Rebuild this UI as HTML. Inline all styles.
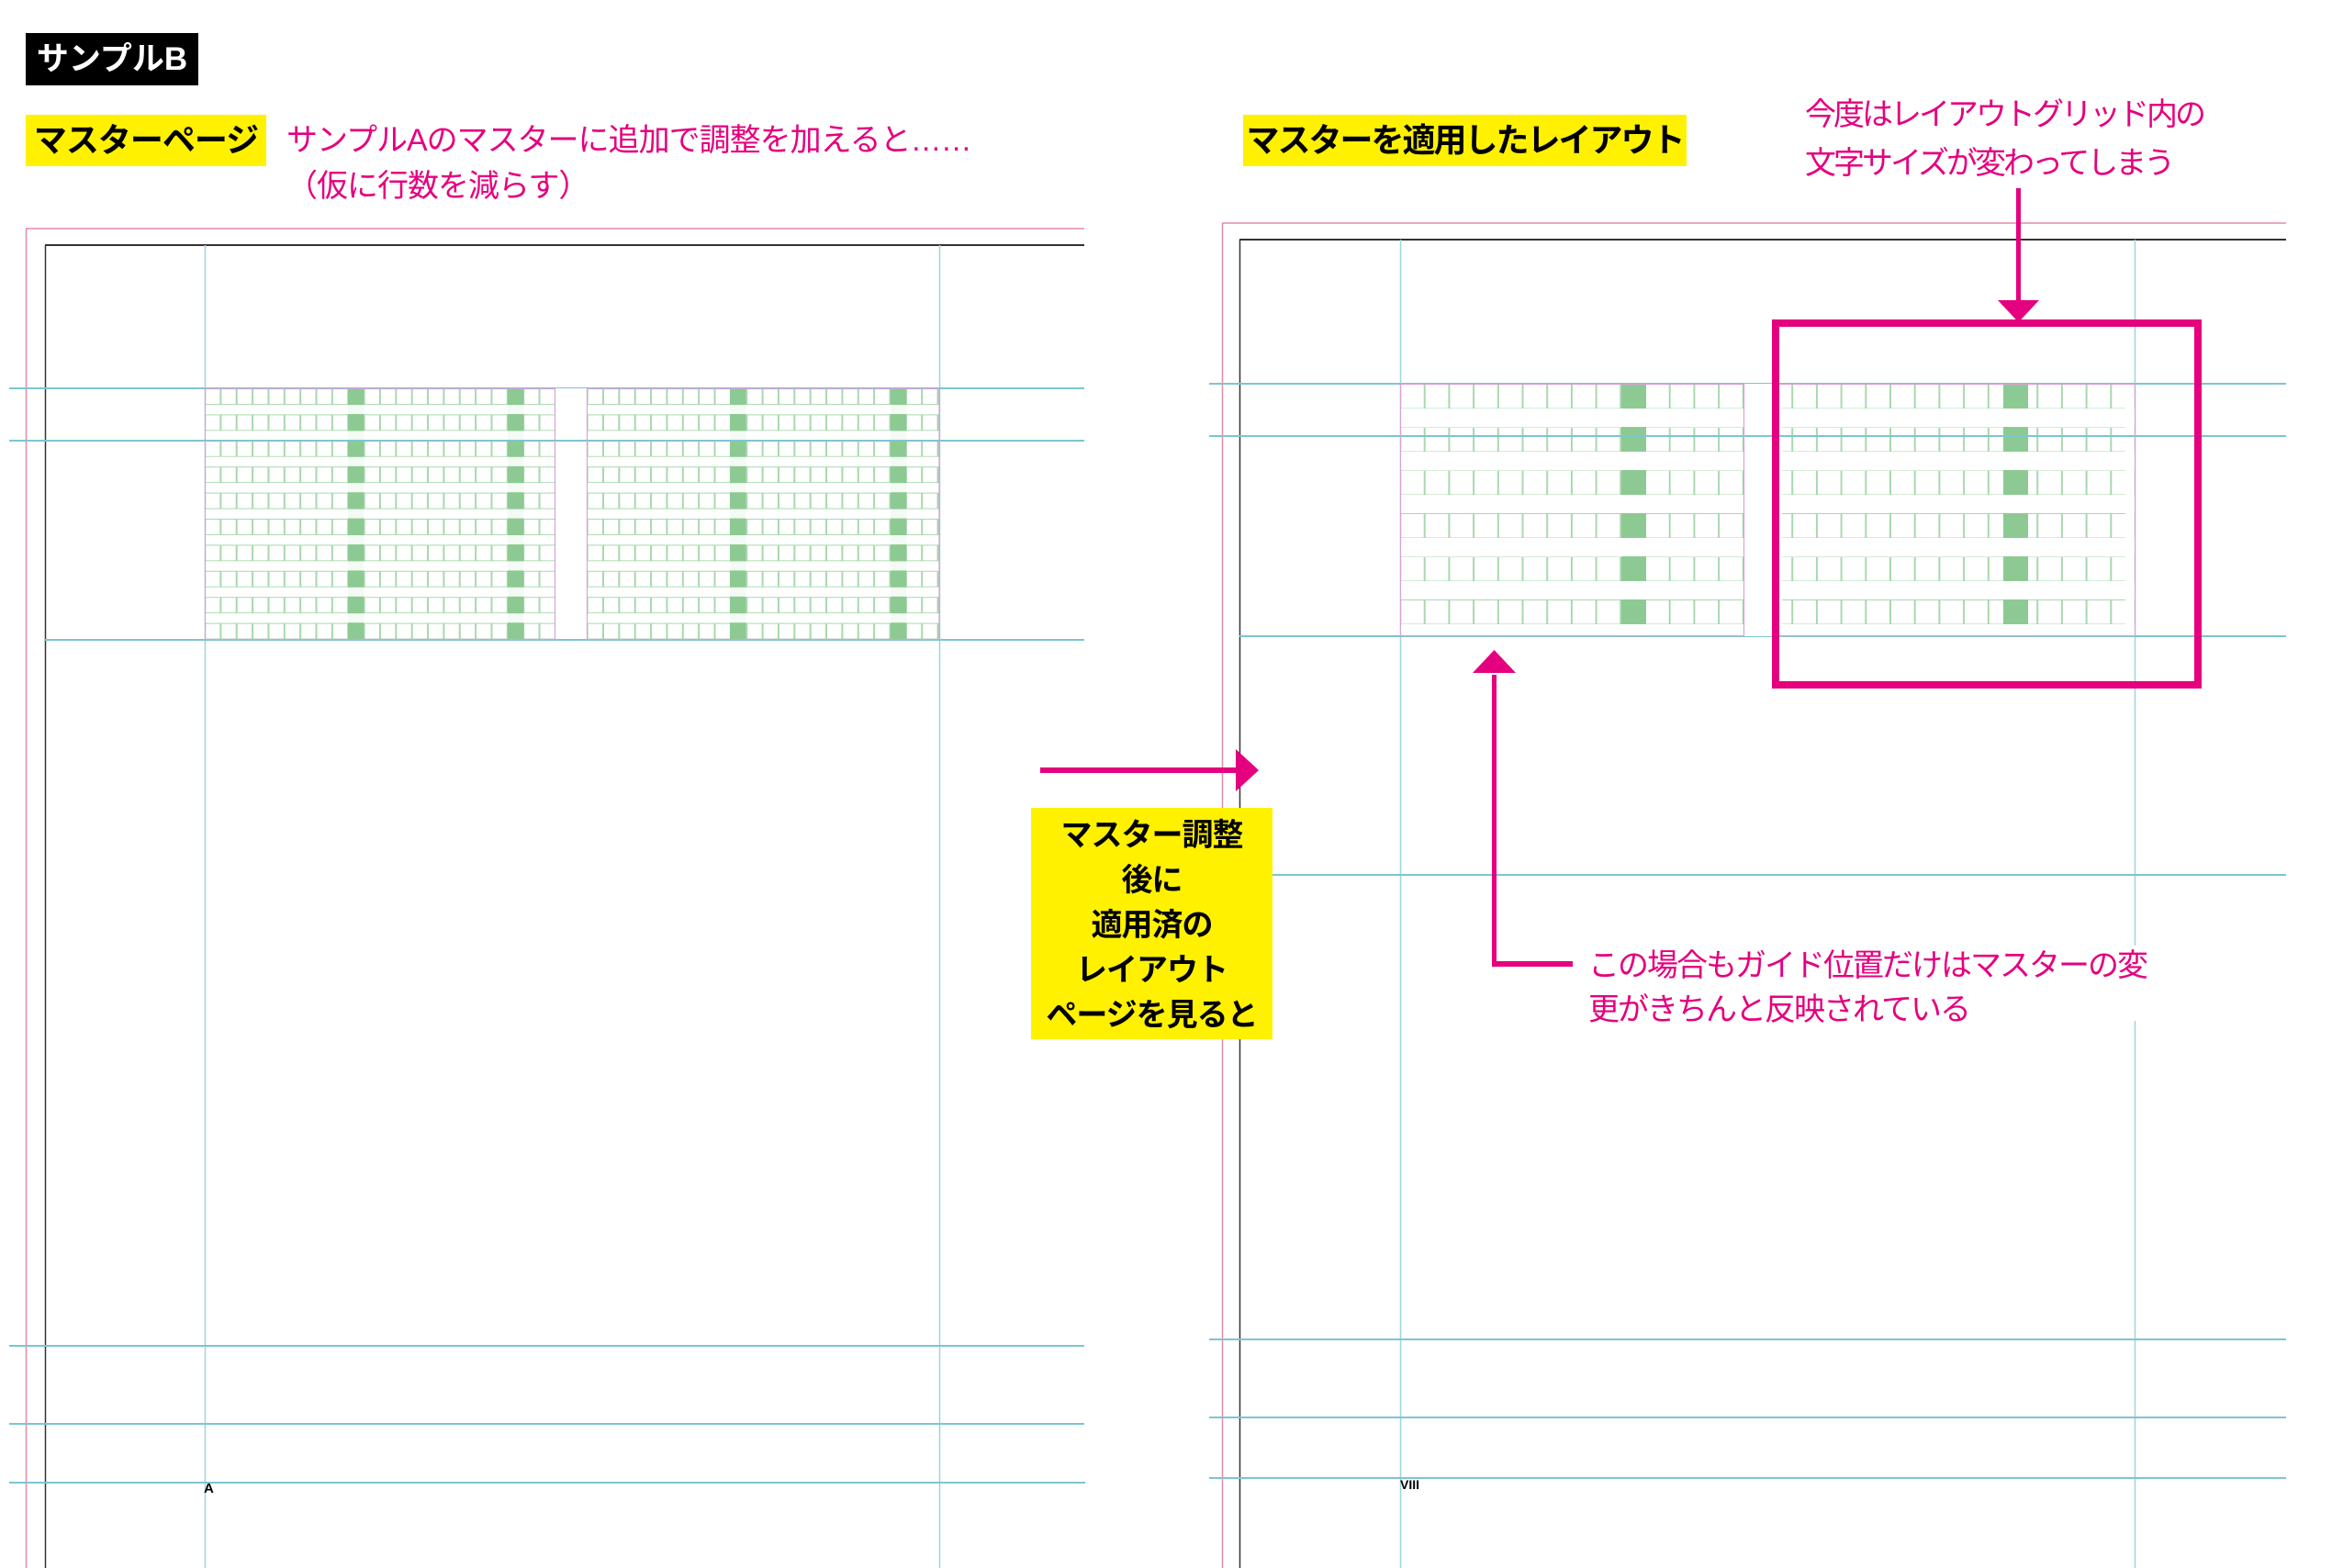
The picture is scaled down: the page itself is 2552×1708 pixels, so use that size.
<!DOCTYPE html>
<html><head><meta charset="utf-8">
<style>
html,body{margin:0;padding:0;background:#fff;}
body{width:2552px;height:1708px;position:relative;overflow:hidden;font-family:"Liberation Sans","Noto Sans CJK JP",sans-serif;}
.t{position:absolute;white-space:nowrap;}
.pk{color:#e4007f;font-size:34px;line-height:50px;}
.yl{position:absolute;background:#fff100;color:#000;font-weight:bold;font-size:36px;white-space:nowrap;}
</style></head><body>
<svg width="2552" height="1708" style="position:absolute;left:0;top:0">
<defs>
<pattern id="pL" x="223" y="423" width="17.36" height="28.4" patternUnits="userSpaceOnUse">
<rect x="0.5" y="0.5" width="16.36" height="17" fill="none" stroke="#a8d8ad" stroke-width="1"/>
</pattern>
<pattern id="pR" x="1525" y="418" width="26.7" height="47" patternUnits="userSpaceOnUse">
<rect x="0.5" y="0.5" width="25.7" height="26.5" fill="none" stroke="#a8d8ad" stroke-width="1"/>
</pattern>
</defs>
<line x1="28" y1="249" x2="1181" y2="249" stroke="#e58aa8" stroke-width="1.5"/>
<line x1="28.5" y1="249" x2="28.5" y2="1708" stroke="#e58aa8" stroke-width="1.5"/>
<line x1="49" y1="267" x2="1181" y2="267" stroke="#333" stroke-width="2"/>
<line x1="49.5" y1="267" x2="49.5" y2="1708" stroke="#333" stroke-width="1.5"/>
<line x1="223.5" y1="267" x2="223.5" y2="1708" stroke="#9dd6dc" stroke-width="1.5"/>
<line x1="1023.5" y1="267" x2="1023.5" y2="1708" stroke="#9dd6dc" stroke-width="1.5"/>
<g stroke="#7cc6cf" stroke-width="2">
<line x1="10" y1="423" x2="1181" y2="423"/>
<line x1="10" y1="480" x2="1181" y2="480"/>
<line x1="49" y1="697" x2="1181" y2="697"/>
<line x1="10" y1="1466" x2="1181" y2="1466"/>
<line x1="10" y1="1551" x2="1181" y2="1551"/>
<line x1="10" y1="1615" x2="1182" y2="1615"/>
</g>
<rect x="223" y="423" width="382" height="273" fill="url(#pL)"/>
<rect x="639" y="423" width="384" height="273" fill="url(#pL)"/>
<g fill="#8dca93">
<rect x="379" y="423" width="17.4" height="273"/>
<rect x="553" y="423" width="17.4" height="273"/>
<rect x="795" y="423" width="17.4" height="273"/>
<rect x="970" y="423" width="17.4" height="273"/>
</g>
<g fill="#fff">
<rect x="223" y="441" width="800" height="10" opacity="0.9"/>
<rect x="223" y="469.4" width="800" height="10" opacity="0.9"/>
<rect x="223" y="497.8" width="800" height="10" opacity="0.9"/>
<rect x="223" y="526.2" width="800" height="10" opacity="0.9"/>
<rect x="223" y="554.6" width="800" height="10" opacity="0.9"/>
<rect x="223" y="583" width="800" height="10" opacity="0.9"/>
<rect x="223" y="611.4" width="800" height="10" opacity="0.9"/>
<rect x="223" y="639.8" width="800" height="10" opacity="0.9"/>
<rect x="223" y="668.2" width="800" height="10" opacity="0.9"/>
<rect x="605" y="423" width="34" height="273"/>
</g>
<g stroke="#7cc6cf" stroke-width="2"><line x1="223" y1="480" x2="1023" y2="480"/></g>
<g fill="none" stroke="#d6a2d6" stroke-width="1.2">
<rect x="223.5" y="423.5" width="381" height="273"/>
<rect x="639.5" y="423.5" width="383.5" height="273"/>
</g>
<line x1="1331" y1="243" x2="2490" y2="243" stroke="#e58aa8" stroke-width="1.5"/>
<line x1="1331.5" y1="243" x2="1331.5" y2="1708" stroke="#e58aa8" stroke-width="1.5"/>
<line x1="1350" y1="261" x2="2490" y2="261" stroke="#333" stroke-width="2"/>
<line x1="1350.5" y1="261" x2="1350.5" y2="1708" stroke="#333" stroke-width="1.5"/>
<line x1="1525.5" y1="261" x2="1525.5" y2="1708" stroke="#9dd6dc" stroke-width="1.5"/>
<line x1="2325.5" y1="261" x2="2325.5" y2="1708" stroke="#9dd6dc" stroke-width="1.5"/>
<g stroke="#7cc6cf" stroke-width="2">
<line x1="1317" y1="418" x2="2490" y2="418"/>
<line x1="1317" y1="475" x2="2490" y2="475"/>
<line x1="1350" y1="693" x2="2490" y2="693"/>
<line x1="1386" y1="953" x2="2490" y2="953"/>
<line x1="1317" y1="1459" x2="2490" y2="1459"/>
<line x1="1317" y1="1544" x2="2490" y2="1544"/>
<line x1="1317" y1="1610" x2="2490" y2="1610"/>
</g>
<rect x="1525" y="418" width="374" height="275" fill="url(#pR)"/>
<rect x="1941" y="418" width="374" height="275" fill="url(#pR)"/>
<g fill="#fff">
<rect x="1525" y="445" width="800" height="19"/>
<rect x="1525" y="492" width="800" height="19"/>
<rect x="1525" y="539" width="800" height="19"/>
<rect x="1525" y="586" width="800" height="19"/>
<rect x="1525" y="633" width="800" height="19"/>
<rect x="1525" y="680" width="800" height="12"/>
<rect x="1899" y="418" width="42" height="275"/>
</g>
<g fill="#8dca93">
<rect x="1766" y="418" width="27" height="27"/><rect x="1766" y="465" width="27" height="27"/><rect x="1766" y="512" width="27" height="27"/><rect x="1766" y="559" width="27" height="27"/><rect x="1766" y="606" width="27" height="27"/><rect x="1766" y="653" width="27" height="27"/>
<rect x="2182" y="418" width="27" height="27"/><rect x="2182" y="465" width="27" height="27"/><rect x="2182" y="512" width="27" height="27"/><rect x="2182" y="559" width="27" height="27"/><rect x="2182" y="606" width="27" height="27"/><rect x="2182" y="653" width="27" height="27"/>
</g>
<g stroke="#7cc6cf" stroke-width="2"><line x1="1525" y1="475" x2="2325" y2="475"/></g>
<g fill="none" stroke="#d6a2d6" stroke-width="1.2">
<rect x="1525.5" y="418.5" width="374" height="274"/>
<rect x="1933.5" y="418.5" width="392" height="274"/>
</g>
<rect x="1720" y="1030" width="640" height="82" fill="#fff"/>
<g fill="#e4007f" stroke="none">
<rect x="1133" y="836" width="215" height="6"/>
<polygon points="1346,816 1371,839 1346,862"/>
<rect x="2196" y="205" width="5" height="125"/>
<polygon points="2176,327 2221,327 2198.5,351"/>
<rect x="1625" y="735" width="5" height="318"/>
<polygon points="1604,733 1651,733 1627.5,708"/>
<rect x="1625" y="1047" width="88" height="6"/>
</g>
<rect x="1934" y="352" width="460" height="394" fill="none" stroke="#e4007f" stroke-width="8"/>
</svg>

<div class="t" style="left:28px;top:36px;width:188px;height:57px;background:#000;color:#fff;font-weight:bold;font-size:35px;line-height:57px;text-align:center;">サンプルB</div>
<div class="yl" style="left:28px;top:125px;width:262px;height:56px;line-height:56px;text-align:center;letter-spacing:-1px;">マスターページ</div>
<div class="t pk" style="left:312px;top:128px;letter-spacing:-1px;">サンプルAのマスターに追加で調整を加えると……</div>
<div class="t pk" style="left:312px;top:178px;letter-spacing:-1px;">（仮に行数を減らす）</div>

<div class="yl" style="left:1354px;top:125px;width:483px;height:56px;line-height:56px;text-align:center;letter-spacing:-2px;">マスターを適用したレイアウト</div>
<div class="t pk" style="left:1966px;top:100px;letter-spacing:-3px;">今度はレイアウトグリッド内の</div>
<div class="t pk" style="left:1966px;top:153px;letter-spacing:-3px;">文字サイズが変わってしまう</div>

<div class="yl" style="left:1123px;top:880px;width:263px;height:252px;text-align:center;font-size:34px;line-height:49px;padding-top:6px;box-sizing:border-box;letter-spacing:-1px;">マスター調整<br>後に<br>適用済の<br>レイアウト<br>ページを見ると</div>

<div class="t pk" style="left:1730px;top:1027px;letter-spacing:-2px;">この場合もガイド位置だけはマスターの変</div>
<div class="t pk" style="left:1730px;top:1075px;letter-spacing:-2px;">更がきちんと反映されている</div>

<div class="t" style="left:222px;top:1614px;font-size:15px;font-weight:bold;line-height:16px;">A</div>
<div class="t" style="left:1525px;top:1609px;font-size:14px;font-weight:bold;line-height:16px;">VIII</div>
</body></html>
